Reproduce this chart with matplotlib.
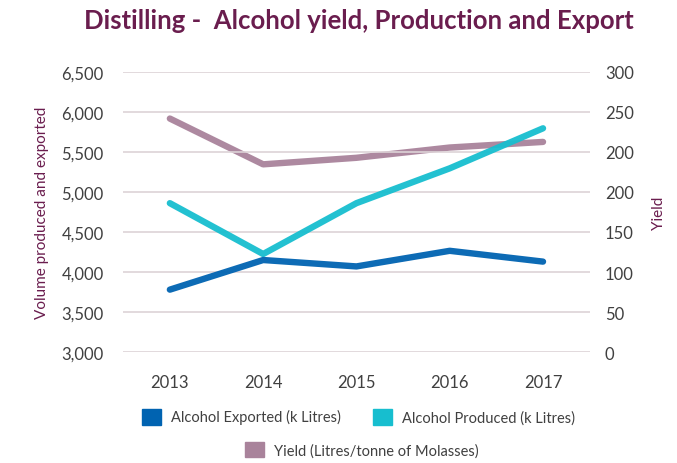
import numpy as np
import matplotlib
matplotlib.use("Agg")
import matplotlib.pyplot as plt
from matplotlib.patches import Patch

plt.rcParams['font.family'] = ['Lato', 'DejaVu Sans']

# Data
years = ['2013', '2014', '2015', '2016', '2017']
exported = [3780, 4150, 4070, 4265, 4130]
produced = [4860, 4225, 4860, 5295, 5795]
yield_vals = [250, 201, 208, 219, 225]

left_ticks = [3000, 3500, 4000, 4500, 5000, 5500, 6000, 6500]
right_labels = ['0', '50', '100', '150', '200', '200', '250', '300']

c_export = '#0063b1'
c_prod = '#17becf'
c_yield = '#a9839b'
c_title = '#6a1d4e'
c_text = '#404040'
c_grid = '#ddd3d7'

fig = plt.figure(figsize=(6.77, 4.64), dpi=100)
ax = fig.add_axes([0.182, 0.239, 0.689, 0.604])
ax2 = ax.twinx()

x = np.arange(len(years))

# yield on the secondary axis, drawn beneath
ax2.plot(x, yield_vals, color=c_yield, lw=4.6, alpha=0.95, solid_capstyle='round', zorder=2)
ax.plot(x, produced, color=c_prod, lw=4.6, alpha=0.95, solid_capstyle='round', zorder=3)
ax.plot(x, exported, color=c_export, lw=4.6, alpha=0.95, solid_capstyle='round', zorder=3)

ax.set_zorder(ax2.get_zorder() + 1)
ax.patch.set_visible(False)

ax.set_xlim(-0.5, len(years) - 0.5)
ax.set_ylim(3000, 6500)
ax.set_yticks(left_ticks)
ax.set_yticklabels([f'{v:,}' for v in left_ticks])
ax2.set_ylim(0, 300)
ax2.set_yticks(np.linspace(0, 300, len(right_labels)))
ax2.set_yticklabels(right_labels)
ax.set_xticks(x)
ax.set_xticklabels(years)

ax.grid(axis='y', color=c_grid, lw=1.2)
ax.set_axisbelow(True)
for a in (ax, ax2):
    for s in a.spines.values():
        s.set_visible(False)
    a.tick_params(length=0, labelsize=12, colors=c_text)
ax.tick_params(axis='y', pad=14)
ax2.tick_params(axis='y', pad=11)
ax.tick_params(axis='x', pad=16)

ax.set_ylabel('Volume produced and exported', color=c_title, fontsize=11, labelpad=9)
ax2.set_ylabel('Yield', color=c_title, fontsize=11, labelpad=13)

fig.text(0.53, 0.955, 'Distilling -  Alcohol yield, Production and Export',
         ha='center', va='center', fontsize=18.5, fontweight='bold', color=c_title)

h1 = [Patch(color=c_export, label='Alcohol Exported (k Litres)'),
      Patch(color=c_prod, label='Alcohol Produced (k Litres)')]
fig.legend(handles=h1, loc='center', bbox_to_anchor=(0.53, 0.1), ncol=2,
           frameon=False, fontsize=10.5, handlelength=1.3, handleheight=1.3,
           columnspacing=2.2, handletextpad=0.7, labelcolor=c_text)
fig.legend(handles=[Patch(color=c_yield, label='Yield (Litres/tonne of Molasses)')],
           loc='center', bbox_to_anchor=(0.535, 0.029), frameon=False, fontsize=10.5,
           handlelength=1.3, handleheight=1.3, handletextpad=0.7, labelcolor=c_text)

fig.savefig('out.png', dpi=100)
